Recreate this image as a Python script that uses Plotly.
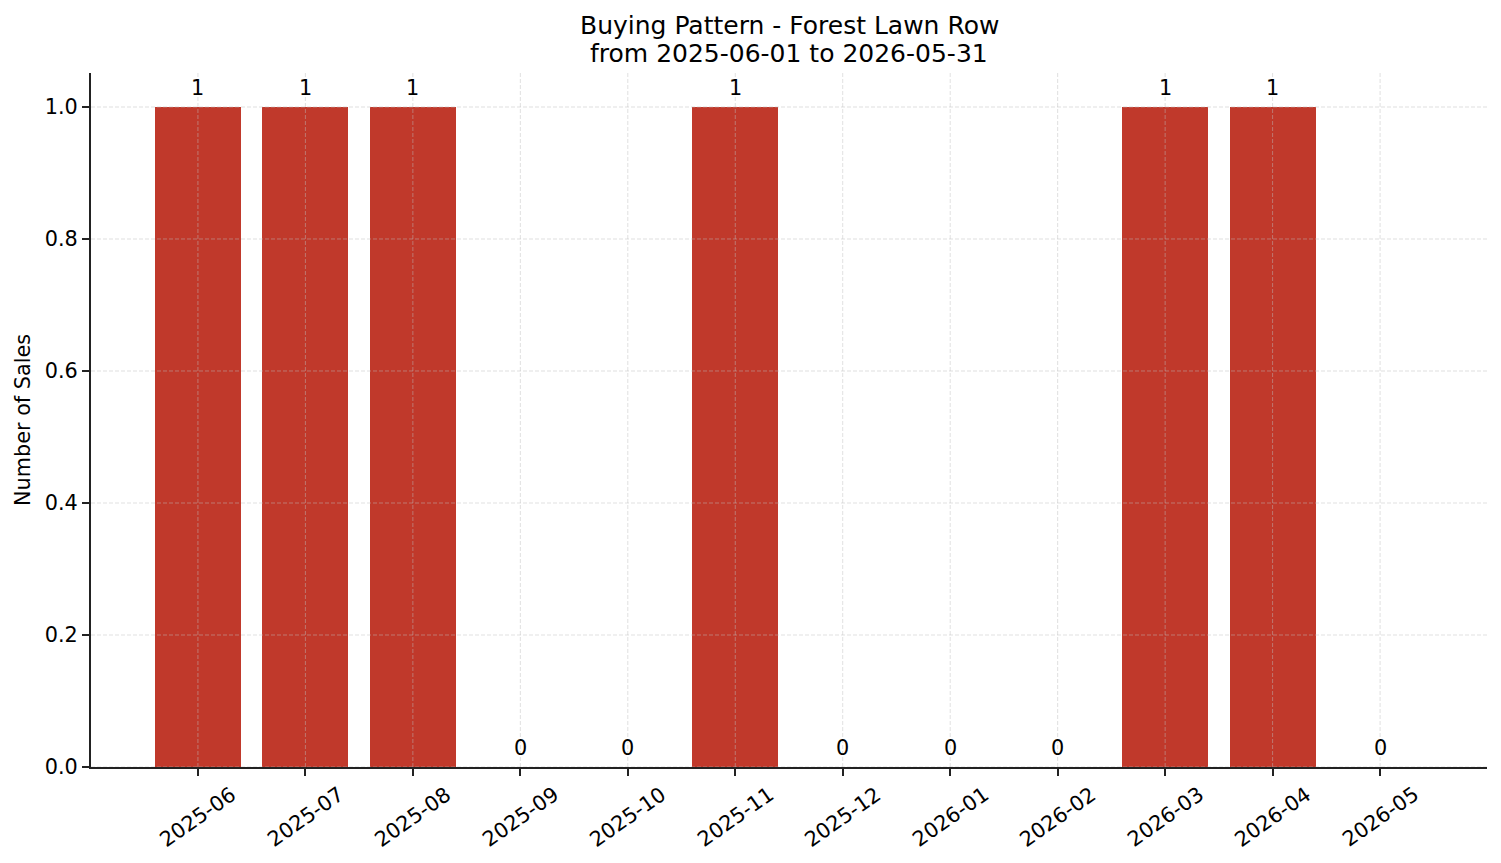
import plotly.graph_objects as go

months = ["2025-06", "2025-07", "2025-08", "2025-09", "2025-10", "2025-11",
          "2025-12", "2026-01", "2026-02", "2026-03", "2026-04", "2026-05"]
sales = [1, 1, 1, 0, 0, 1, 0, 0, 0, 1, 1, 0]
y_ticks = [0.0, 0.2, 0.4, 0.6, 0.8, 1.0]
y_tick_labels = ["0.0", "0.2", "0.4", "0.6", "0.8", "1.0"]
title_lines = ["Buying Pattern - Forest Lawn Row", "from 2025-06-01 to 2026-05-31"]

FONT = "DejaVu Sans"
BAR = "#c0392b"
GRID = "rgba(190,190,190,0.6)"
GRID_DASH = "4px,2px"
FS = 20.8
TFS = 25

idx = list(range(len(months)))

fig = go.Figure()
fig.add_trace(go.Bar(x=idx, y=sales, width=0.8, marker=dict(color=BAR, line=dict(width=0)),
                     hoverinfo="skip"))

shapes = []
for i in idx:
    shapes.append(dict(type="line", xref="x", yref="paper", x0=i, x1=i, y0=0, y1=1,
                       line=dict(color=GRID, width=0.8, dash=GRID_DASH), layer="above"))
for t in y_ticks:
    shapes.append(dict(type="line", xref="paper", yref="y", x0=0, x1=1, y0=t, y1=t,
                       line=dict(color=GRID, width=0.8, dash=GRID_DASH), layer="above"))

annotations = []
for i, v in zip(idx, sales):
    annotations.append(dict(x=i, y=v, xref="x", yref="y", text=str(v), showarrow=False,
                            xanchor="center", yanchor="bottom", yshift=5,
                            font=dict(family=FONT, size=FS, color="black")))
for i, m in zip(idx, months):
    annotations.append(dict(x=i, y=0, xref="x", yref="paper", text=m, showarrow=False,
                            textangle=-35, xanchor="center", yanchor="top", yshift=-12,
                            font=dict(family=FONT, size=FS, color="black")))
annotations.append(dict(x=-0.0487, y=0.5, xref="paper", yref="paper", text="Number of Sales",
                        showarrow=False, textangle=-90, xanchor="center", yanchor="middle",
                        font=dict(family=FONT, size=FS, color="black")))
for line, shift in zip(title_lines, [48, 20]):
    annotations.append(dict(x=0.5, y=1, xref="paper", yref="paper", text=line,
                            showarrow=False, xanchor="center", yanchor="middle", yshift=shift,
                            font=dict(family=FONT, size=TFS, color="black")))

fig.update_layout(
    width=1501, height=863,
    margin=dict(l=91, r=14, t=73, b=96),
    paper_bgcolor="white", plot_bgcolor="white",
    showlegend=False,
    shapes=shapes, annotations=annotations,
    font=dict(family=FONT, size=FS, color="black"),
    bargap=0,
)
fig.update_xaxes(range=[-0.995, 11.995], tickmode="array", tickvals=idx, ticktext=[""] * len(idx),
                 showgrid=False, zeroline=False, showline=True, linecolor="#222222", linewidth=2,
                 ticks="outside", ticklen=7, tickwidth=2, tickcolor="#222222")
fig.update_yaxes(range=[0, 1.0515], tickmode="array", tickvals=y_ticks, ticktext=y_tick_labels,
                 showgrid=False, zeroline=False, showline=True, linecolor="#222222", linewidth=2,
                 ticks="outside", ticklen=7, tickwidth=2, tickcolor="#222222",
                 tickfont=dict(family=FONT, size=FS, color="black"))

fig.write_html("out.html")
